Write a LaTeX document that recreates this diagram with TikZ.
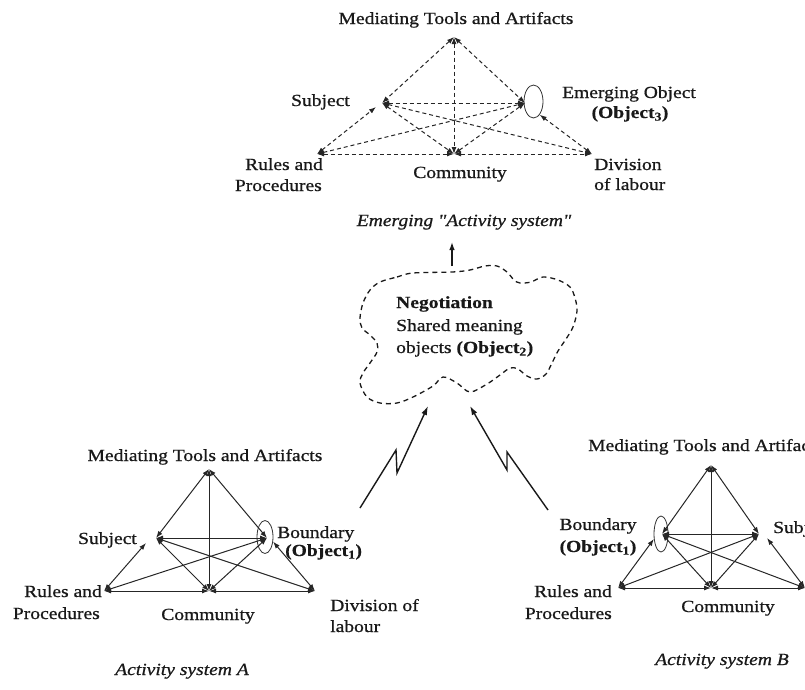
\documentclass[tikz,border=0pt]{standalone}
\usepackage{fontspec}
\setmainfont{Liberation Serif}[FakeStretch=1.15, FakeBold=0.8,
  BoldFeatures={FakeBold=0.4}]
% italic face without TeX quote mapping, for straight double quotes
\newfontface\plainquote{Liberation Serif Italic}[FakeStretch=1.15, FakeBold=0.8, Ligatures=TeXOff]
\usetikzlibrary{arrows.meta,shapes.geometric}

\begin{document}
\begin{tikzpicture}[x=1pt,y=-1pt,
  lbl/.style={font=\fontsize{17}{20}\selectfont, inner sep=0pt, text=black!90},
  captext/.style={lbl, font=\fontsize{17}{20}\selectfont\itshape},
  link/.style={line width=1pt, black!85,
    {Latex[length=7pt,width=5pt]}-{Latex[length=7pt,width=5pt]}},
  dlink/.style={link, dash pattern=on 4pt off 3pt},
  loopmark/.style={draw, ellipse, line width=0.8pt, inner sep=0pt, black!80},
  bolt/.style={line width=1.4pt, black!90, -{Latex[length=9pt,width=6pt]}},
  cloudline/.style={line width=1.3pt, black!90, dash pattern=on 5pt off 4pt},
  ]
\useasboundingbox (0,0) rectangle (805,689);
\clip (0,0) rectangle (805,689);

% ---------------- emerging activity system (dashed) ----------------
\coordinate (tm)   at (454,37);
\coordinate (ts)   at (382,103);
\coordinate (tobj) at (525,103);
\coordinate (tr)   at (317,154);
\coordinate (tc)   at (454,154);
\coordinate (td)   at (592,154);
\coordinate (tsin) at (376,107);
\node[loopmark, minimum width=19pt, minimum height=33pt] (tloop) at (533.5,101.5) {};

\draw[dlink] (tm) -- (ts);
\draw[dlink] (tm) -- (tobj);
\draw[dlink] (tm) -- (tc);
\draw[dlink] (ts) -- (tobj);
\draw[dlink] (tr) -- (tsin);
\draw[dlink] (ts) -- (tc);
\draw[dlink] (ts) -- (td);
\draw[dlink] (tr) -- (tobj);
\draw[dlink] (tc) -- (tobj);
\draw[dlink] (td) -- (tloop.-65);
\draw[dlink] (tr) -- (tc);
\draw[dlink] (tc) -- (td);

\node[lbl, anchor=base] (tmlbl) at (456,24) {Mediating Tools and Artifacts};
\node[lbl, anchor=base east] (tslbl) at (350,106) {Subject};
\node[lbl, anchor=base] (tolbl) at (629,98) {Emerging Object};
\node[lbl, anchor=base] (tolbl2) at (630,118) {\textbf{(Object\textsubscript{3})}};
\node[lbl, anchor=base west] (tdlbl) at (594,170) {Division};
\node[lbl, anchor=base west] (tdlbl2) at (594,190) {of labour};
\node[lbl, anchor=base east] (trlbl) at (323,170) {Rules and};
\node[lbl, anchor=base east] (trlbl2) at (322,191) {Procedures};
\node[lbl, anchor=base] (tclbl) at (460,178) {Community};
\node[captext, anchor=base] (tcap) at (464,226) {Emerging {\plainquote "}Activity system{\plainquote "}};

% ---------------- negotiation cloud ----------------
\draw[cloudline] plot[smooth cycle, tension=0.55] coordinates {
  (380,282) (397,277) (413,273) (452,272) (470,270) (485,266) (497,266)
  (507,272) (514,280) (520,283) (531,282) (543,277) (558,280) (570,287)
  (575,298) (577,311) (573,327) (566,339) (558,351) (552,363) (546,374)
  (537,379) (527,376) (518,369) (510,368) (500,375) (487,384) (470,392)
  (457,383) (443,377) (433,386) (413,397) (397,403) (380,403) (367,397)
  (360,383) (363,373) (370,363) (377,352) (377,343) (370,335) (362,328)
  (360,318) (363,303) (370,290)};
\node[lbl, anchor=base west, font=\fontsize{17}{20}\selectfont\bfseries] (neg) at (396,308) {Negotiation};
\node[lbl, anchor=base west] (neg2) at (396,331) {Shared meaning};
\node[lbl, anchor=base west] (neg3) at (396,353) {objects \textbf{(Object\textsubscript{2})}};

\coordinate (cloudtop) at (452,266);
\coordinate (captip) at (452,242);
\draw[line width=1.3pt, black!90, -{Latex[length=8pt,width=5.5pt]}] (cloudtop) -- (captip);

% ---------------- lightning links ----------------
\coordinate (la0) at (360,508);
\coordinate (la1) at (396,450);
\coordinate (la2) at (397,473);
\coordinate (la3) at (428,406);
\draw[bolt] (la0) -- (la1) -- (la2) -- (la3);
\coordinate (lb0) at (548,510);
\coordinate (lb1) at (507,452);
\coordinate (lb2) at (507,470);
\coordinate (lb3) at (470,406);
\draw[bolt] (lb0) -- (lb1) -- (lb2) -- (lb3);

% ---------------- activity system A ----------------
\coordinate (am)   at (209,469);
\coordinate (as)   at (156,538);
\coordinate (ab)   at (267,538);
\coordinate (ar)   at (104,591);
\coordinate (ac)   at (209,591);
\coordinate (ad)   at (315,591);
\coordinate (asin) at (146,543);
\node[loopmark, minimum width=16pt, minimum height=33pt] (aloop) at (265,537) {};

\draw[link] (am) -- (as);
\draw[link] (am) -- (ab);
\draw[link] (am) -- (ac);
\draw[link] (as) -- (ab);
\draw[link] (ar) -- (asin);
\draw[link] (as) -- (ac);
\draw[link] (as) -- (ad);
\draw[link] (ar) -- (ab);
\draw[link] (ac) -- (ab);
\draw[link] (ad) -- (aloop.-30);
\draw[link] (ar) -- (ac);
\draw[link] (ac) -- (ad);

\node[lbl, anchor=base] (amlbl) at (205,461) {Mediating Tools and Artifacts};
\node[lbl, anchor=base east] (aslbl) at (137,544) {Subject};
\node[lbl, anchor=base west] (ablbl) at (277,538) {Boundary};
\node[lbl, anchor=base west] (ablbl2) at (285,556) {\textbf{(Object\textsubscript{1})}};
\node[lbl, anchor=base east] (arlbl) at (102,597) {Rules and};
\node[lbl, anchor=base east] (arlbl2) at (100,619) {Procedures};
\node[lbl, anchor=base] (aclbl) at (208,620) {Community};
\node[lbl, anchor=base west] (adlbl) at (330,611) {Division of};
\node[lbl, anchor=base west] (adlbl2) at (330,632) {labour};
\node[captext, anchor=base] (acap) at (182,675) {Activity system A};

% ---------------- activity system B ----------------
\coordinate (bm)   at (711,465);
\coordinate (bb)   at (662,534);
\coordinate (bs)   at (759,534);
\coordinate (br)   at (618,588);
\coordinate (bc)   at (711,588);
\coordinate (bd)   at (805,588);
\coordinate (bsin) at (767,538);
\node[loopmark, minimum width=14pt, minimum height=36pt] (bloop) at (661,534) {};

\draw[link] (bm) -- (bb);
\draw[link] (bm) -- (bs);
\draw[link] (bm) -- (bc);
\draw[link] (bb) -- (bs);
\draw[link] (br) -- (bloop.-145);
\draw[link] (bb) -- (bc);
\draw[link] (bb) -- (bd);
\draw[link] (br) -- (bs);
\draw[link] (bc) -- (bs);
\draw[link] (bd) -- (bsin);
\draw[link] (br) -- (bc);
\draw[link] (bc) -- (bd);

\node[lbl, anchor=base west] (bmlbl) at (588,451) {Mediating Tools and Artifacts};
\node[lbl, anchor=base west] (bslbl) at (773,533) {Subject};
\node[lbl, anchor=base] (bblbl) at (598,530) {Boundary};
\node[lbl, anchor=base] (bblbl2) at (598,552) {\textbf{(Object\textsubscript{1})}};
\node[lbl, anchor=base east] (brlbl) at (612,597) {Rules and};
\node[lbl, anchor=base east] (brlbl2) at (612,619) {Procedures};
\node[lbl, anchor=base] (bclbl) at (728,612) {Community};
\node[captext, anchor=base] (bcap) at (722,665) {Activity system B};

\end{tikzpicture}
\end{document}
